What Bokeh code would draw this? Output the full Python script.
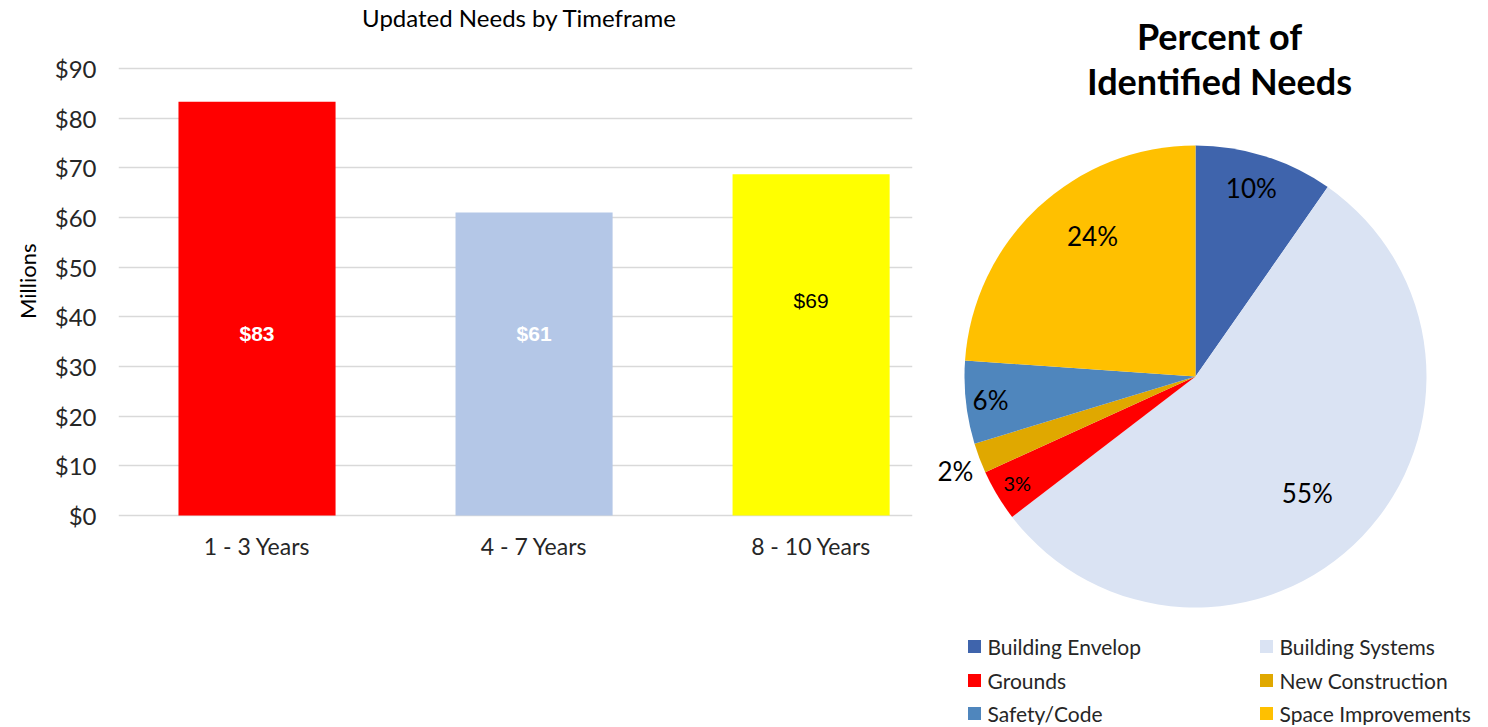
import math
from bokeh.plotting import figure
from bokeh.models import Range1d, FixedTicker, PrintfTickFormatter, ColumnDataSource, Label, Title
from bokeh.layouts import row
from bokeh.core.properties import value
from bokeh.embed import file_html
from bokeh.resources import INLINE

# ---------------- data ----------------
categories = ["1 - 3 Years", "4 - 7 Years", "8 - 10 Years"]
needs = [83.3, 61.0, 68.7]
bar_labels = ["$83", "$61", "$69"]
bar_colors = ["#FF0000", "#B4C7E7", "#FFFF00"]
y_ticks = [0, 10, 20, 30, 40, 50, 60, 70, 80, 90]

pie_cats = ["Building Envelop", "Building Systems", "Grounds",
            "New Construction", "Safety/Code", "Space Improvements"]
pie_vals = [9.7, 54.9, 3.6, 2.1, 5.8, 23.9]
pie_labels = ["10%", "55%", "3%", "2%", "6%", "24%"]
pie_colors = ["#3F64AC", "#DAE3F3", "#FF0000", "#E0A800", "#4F86BD", "#FFC000"]

# ---------------- styling / layout ----------------
label_colors = ["#FFFFFF", "#FFFFFF", "#000000"]
label_styles = ["bold", "bold", "normal"]
label_y = [36.6, 36.6, 43.3]
pie_label_r = [0.853, 0.70, 0.90, 1.116, 0.893, 0.753]
pie_label_dang = [-1.0, 2.5, 0.0, -0.7, 0.0, 6.7]
pie_label_size = ["26px", "26px", "20px", "26px", "26px", "26px"]

FONT = "Lato"
H = 725
# bar plot: pixel rows (from top) of $0 and $90
Y0_PX, Y90_PX = 515, 68
ppu = (Y0_PX - Y90_PX) / 90.0
y_start = -(H - Y0_PX) / ppu
y_end = 90 + Y90_PX / ppu

# ---------------- bar chart ----------------
xs = [i + 0.5 for i in range(len(categories))]
p = figure(width=933, height=H, x_range=Range1d(0, 2.866), y_range=Range1d(y_start, y_end),
           output_backend="svg", toolbar_location=None, title_location=None,
           min_border_left=118, min_border_right=21, min_border_top=0, min_border_bottom=0)
p.outline_line_color = None

src = ColumnDataSource(dict(x=xs, top=needs, color=bar_colors, label=bar_labels,
                            ly=label_y, lc=label_colors, ls=label_styles))
p.vbar(x="x", top="top", bottom=0, width=0.567, fill_color="color", line_color=None, source=src)
p.text(x="x", y="ly", text="label", text_color="lc", text_font_style="ls",
       text_font=value("Liberation Sans"), text_font_size="21px",
       text_align="center", text_baseline="middle", source=src)

p.xgrid.visible = False
p.ygrid.grid_line_color = "#D9D9D9"
p.ygrid.grid_line_width = 1.5
p.ygrid.ticker = FixedTicker(ticks=y_ticks)

p.yaxis.ticker = FixedTicker(ticks=y_ticks)
p.yaxis.formatter = PrintfTickFormatter(format="$%d")
p.xaxis.ticker = FixedTicker(ticks=xs)
p.xaxis.major_label_overrides = {x: c for x, c in zip(xs, categories)}
p.xaxis.fixed_location = 0
for ax in (p.xaxis, p.yaxis):
    ax.axis_line_color = None
    ax.major_tick_line_color = None
    ax.minor_tick_line_color = None
    ax.major_tick_out = 0
    ax.major_tick_in = 0
    ax.minor_tick_out = 0
    ax.major_label_text_font = FONT
    ax.major_label_text_color = "#262626"
p.xaxis.major_label_text_font_size = "23px"
p.yaxis.major_label_text_font_size = "24px"
p.yaxis.major_label_standoff = 22
p.xaxis.major_label_standoff = 16

# y-axis title (placed as a side title so it can sit where the reference has it)
p.add_layout(Title(text="Millions", align="right", offset=243, standoff=22,
                   text_font=FONT, text_font_size="22px", text_font_style="normal",
                   text_color="#000000"), "left")

p.add_layout(Label(x=1.448, y=(Y0_PX - 17) / ppu, text="Updated Needs by Timeframe", text_font=FONT,
                   text_font_size="24px", text_color="#000000",
                   text_align="center", text_baseline="middle"))

# ---------------- pie chart ----------------
W = 550
PIE_LEFT = 933  # page x of pie figure


def px(xp, yp):
    """page pixel -> pie data coordinates"""
    return xp - PIE_LEFT, H - yp


q = figure(width=W, height=H, x_range=Range1d(0, W), y_range=Range1d(0, H),
           output_backend="svg", toolbar_location=None, min_border=0, title_location=None,
           x_axis_location=None, y_axis_location=None)
q.outline_line_color = None
q.grid.visible = False

cx, cy = px(1195, 376)
R = 231
total = sum(pie_vals)
starts, ends, lx, ly = [], [], [], []
cum = 0.0
for v, f, da in zip(pie_vals, pie_label_r, pie_label_dang):
    a0 = cum / total * 2 * math.pi
    cum += v
    a1 = cum / total * 2 * math.pi
    starts.append(math.pi / 2 - a1)
    ends.append(math.pi / 2 - a0)
    mid = (a0 + a1) / 2 + math.radians(da)
    lx.append(cx + R * f * math.sin(mid))
    ly.append(cy + R * f * math.cos(mid))

psrc = ColumnDataSource(dict(start=starts, end=ends, color=pie_colors, lx=lx, ly=ly,
                             label=pie_labels, size=pie_label_size))
q.wedge(x=cx, y=cy, radius=R, start_angle="start", end_angle="end", direction="anticlock",
        fill_color="color", line_color=None, source=psrc)
q.text(x="lx", y="ly", text="label", text_font_size="size", text_font=value(FONT),
       text_color="#000000", text_align="center", text_baseline="middle", source=psrc)

t1 = px(1219, 35)
t2 = px(1219, 80)
q.text(x=[t1[0], t2[0]], y=[t1[1], t2[1]], text=["Percent of", "Identified Needs"],
       text_font=value(FONT), text_font_size="36px", text_font_style="bold",
       text_color="#000000", text_align="center", text_baseline="middle")

# legend (two columns, three rows)
leg_cols = [974, 1266]
leg_rows = [646, 680, 713]
sq_x, sq_y, tx, ty = [], [], [], []
for i, name in enumerate(pie_cats):
    c, r = i % 2, i // 2
    lxp, lyp = px(leg_cols[c], leg_rows[r])
    sq_x.append(lxp)
    sq_y.append(lyp)
    tx.append(lxp + 13)
    ty.append(lyp)
lsrc = ColumnDataSource(dict(x=sq_x, y=sq_y, tx=tx, ty=ty, color=pie_colors, name=pie_cats))
q.scatter(x="x", y="y", marker="square", size=13, fill_color="color", line_color=None, source=lsrc)
q.text(x="tx", y="ty", text="name", text_font=value(FONT), text_font_size="21px",
       text_color="#262626", text_align="left", text_baseline="middle", source=lsrc)

layout = row(p, q)
open("out.html", "w").write(file_html(layout, INLINE))
